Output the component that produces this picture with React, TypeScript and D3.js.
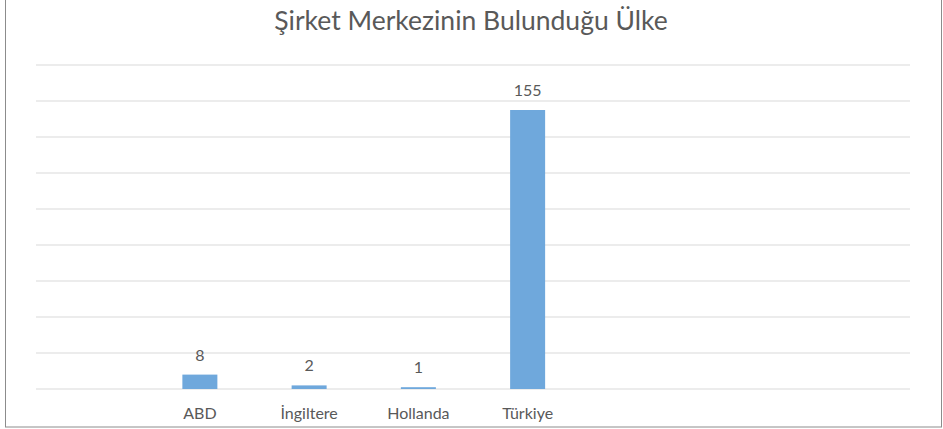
import React from "react";
import * as d3 from "d3";

const categories = ["", "ABD", "İngiltere", "Hollanda", "Türkiye", " ", "  ", "   "];
const values: (number | null)[] = [null, 8, 2, 1, 155, null, null, null];
const yTicks = [0, 20, 40, 60, 80, 100, 120, 140, 160, 180];
const title = "Şirket Merkezinin Bulunduğu Ülke";

const W = 943;
const H = 429;
const FONT = "Lato, 'Open Sans', sans-serif";
const TEXT = "#595959";

export default function App() {
  const xc = d3.scaleBand<string>().domain(categories).range([36, 910]);
  const y = d3.scaleLinear().domain([0, 180]).range([389, 65]);

  return (
    <svg width={W} height={H} style={{ position: "absolute", left: 0, top: 0, background: "#fff" }}>
      <rect x={5.5} y={-1} width={936} height={428} fill="#fff" stroke="#8c8c8c" strokeWidth={1} />
      <text x={471} y={30} textAnchor="middle" fontFamily={FONT} fontSize={26.5} fill={TEXT}>
        {title}
      </text>
      {yTicks.map((t) => (
        <line key={t} x1={36} x2={910} y1={y(t)} y2={y(t)} stroke="#d9d9d9" strokeWidth={1} />
      ))}
      {categories.map((c, i) => {
        const v = values[i];
        const cx = (xc(c) as number) + xc.bandwidth() / 2;
        const bw = 35;
        return (
          <g key={i}>
            {v != null && (
              <>
                <rect x={cx - bw / 2} y={y(v)} width={bw} height={y(0) - y(v)} fill="#6fa8dc" />
                <text x={cx} y={y(v) - 14} textAnchor="middle" fontFamily={FONT} fontSize={16} fill={TEXT}>
                  {v}
                </text>
              </>
            )}
            {c.trim() !== "" && (
              <text x={cx} y={419} textAnchor="middle" fontFamily={FONT} fontSize={16} fill={TEXT}>
                {c}
              </text>
            )}
          </g>
        );
      })}
    </svg>
  );
}
